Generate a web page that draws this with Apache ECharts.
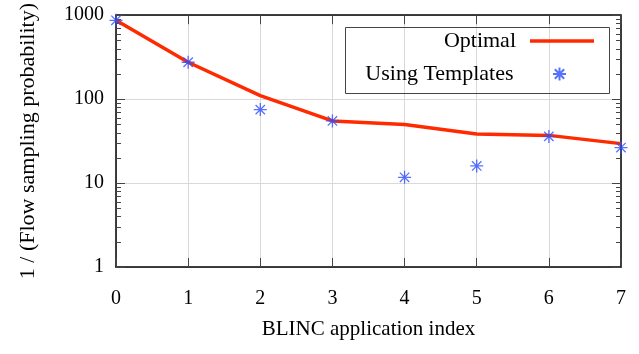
<!DOCTYPE html>
<html><head><meta charset="utf-8">
<script src="https://cdn.jsdelivr.net/npm/echarts@6/dist/echarts.min.js"></script>
<style>html,body{margin:0;padding:0;background:#fff}#c{width:639px;height:354px}</style>
</head><body><div id="c"></div>
<script>
const xValues = [0, 1, 2, 3, 4, 5, 6, 7];
const optimal = [870, 275, 110, 55, 50, 38.5, 37, 29.5];
const templates = [870, 275, 75, 55, 11.7, 16, 36, 26.5];
const yMinorTicks = [2,3,4,5,6,7,8,9,20,30,40,50,60,70,80,90,200,300,400,500,600,700,800,900];
const xName = 'BLINC application index';
const yName = '1 / (Flow sampling probability)';

const FONT = 'Liberation Serif';
const BLUE = '#2d4dff';
const RED = '#ff2a00';
const starPath = 'path://M0,-1L0,1M-1,0L1,0M-0.72,-0.72L0.72,0.72M-0.72,0.72L0.72,-0.72';

const chart = echarts.init(document.getElementById('c'), null, {renderer: 'canvas'});
const axisFont = {fontFamily: FONT, fontSize: 20, color: '#000'};

const option = {
  animation: false,
  backgroundColor: '#fff',
  grid: {left: 116, right: 18, top: 14, bottom: 87, containLabel: false},
  xAxis: [{
    type: 'value', min: 0, max: 7, interval: 1, position: 'bottom',
    name: xName, nameLocation: 'middle', nameGap: 52,
    nameTextStyle: {fontFamily: FONT, fontSize: 21, color: '#000'},
    axisLine: {show: true, onZero: false, lineStyle: {color: '#000', width: 1.5}},
    axisTick: {show: true, inside: true, length: 9, lineStyle: {color: '#444', width: 1}},
    axisLabel: Object.assign({margin: 22}, axisFont),
    splitLine: {show: true, lineStyle: {color: '#d9d9d9', width: 1}}
  }, {
    type: 'value', min: 0, max: 7, interval: 1, position: 'top',
    axisLine: {show: true, onZero: false, lineStyle: {color: '#000', width: 1.5}},
    axisTick: {show: true, inside: true, length: 9, lineStyle: {color: '#444', width: 1}},
    axisLabel: {show: false}, splitLine: {show: false}
  }],
  yAxis: [{
    type: 'log', logBase: 10, min: 1, max: 1000, position: 'left',
    name: yName, nameLocation: 'middle', nameGap: 77, nameRotate: 90,
    nameTextStyle: {fontFamily: FONT, fontSize: 22, color: '#000'},
    axisLine: {show: true, onZero: false, lineStyle: {color: '#000', width: 1.5}},
    axisTick: {show: true, inside: true, length: 9, lineStyle: {color: '#444', width: 1}},
    axisLabel: Object.assign({margin: 12, formatter: v => String(Math.round(v))}, axisFont),
    splitLine: {show: true, lineStyle: {color: '#d9d9d9', width: 1}}
  }, {
    type: 'log', logBase: 10, min: 1, max: 1000, position: 'right',
    axisLine: {show: true, onZero: false, lineStyle: {color: '#000', width: 1.5}},
    axisTick: {show: true, inside: true, length: 9, lineStyle: {color: '#444', width: 1}},
    axisLabel: {show: false}, splitLine: {show: false}
  }],
  legend: [{
    data: [{name: 'Optimal', icon: 'rect'}], right: 45, top: 30, padding: 0,
    orient: 'vertical', align: 'right',
    itemWidth: 64, itemHeight: 3.5, selectedMode: false,
    itemStyle: {color: RED, borderWidth: 0},
    textStyle: {fontFamily: FONT, fontSize: 22, color: '#000', padding: [0, 9, 0, 0]}
  }, {
    data: ['Using Templates'], right: 72, top: 63, padding: 0,
    orient: 'vertical', align: 'right',
    itemWidth: 64, itemHeight: 13, selectedMode: false,
    textStyle: {fontFamily: FONT, fontSize: 22, color: '#000', padding: [0, 9, 0, 0]}
  }],
  graphic: [{
    type: 'rect', left: 343, top: 25, z: 10,
    shape: {width: 264, height: 66},
    style: {fill: null, stroke: '#444', lineWidth: 1}
  }],
  series: [{
    type: 'custom', name: 'minorTicks', silent: true, z: 3,
    xAxisIndex: 0, yAxisIndex: 0, clip: false,
    data: yMinorTicks.map(v => [0, v]),
    renderItem: function (params, api) {
      const p = api.coord([0, api.value(1)]);
      const q = api.coord([7, api.value(1)]);
      const st = {stroke: '#444', lineWidth: 1};
      return {type: 'group', children: [
        {type: 'line', shape: {x1: p[0], y1: Math.round(p[1]) + 0.5, x2: p[0] + 5, y2: Math.round(p[1]) + 0.5}, style: st},
        {type: 'line', shape: {x1: q[0] - 5, y1: Math.round(q[1]) + 0.5, x2: q[0], y2: Math.round(q[1]) + 0.5}, style: st}
      ]};
    }
  }, {
    type: 'line', name: 'Optimal', z: 5,
    data: xValues.map((x, i) => [x, optimal[i]]),
    showSymbol: false, symbol: 'none',
    lineStyle: {color: RED, width: 3.5},
    itemStyle: {color: RED},
    emphasis: {disabled: true}
  }, {
    type: 'scatter', name: 'Using Templates', z: 6,
    data: xValues.map((x, i) => [x, templates[i]]),
    symbol: starPath, symbolSize: 13,
    itemStyle: {color: BLUE, borderColor: BLUE, borderWidth: 1.3},
    emphasis: {disabled: true}
  }]
};
chart.setOption(option);
</script>
</body></html>
